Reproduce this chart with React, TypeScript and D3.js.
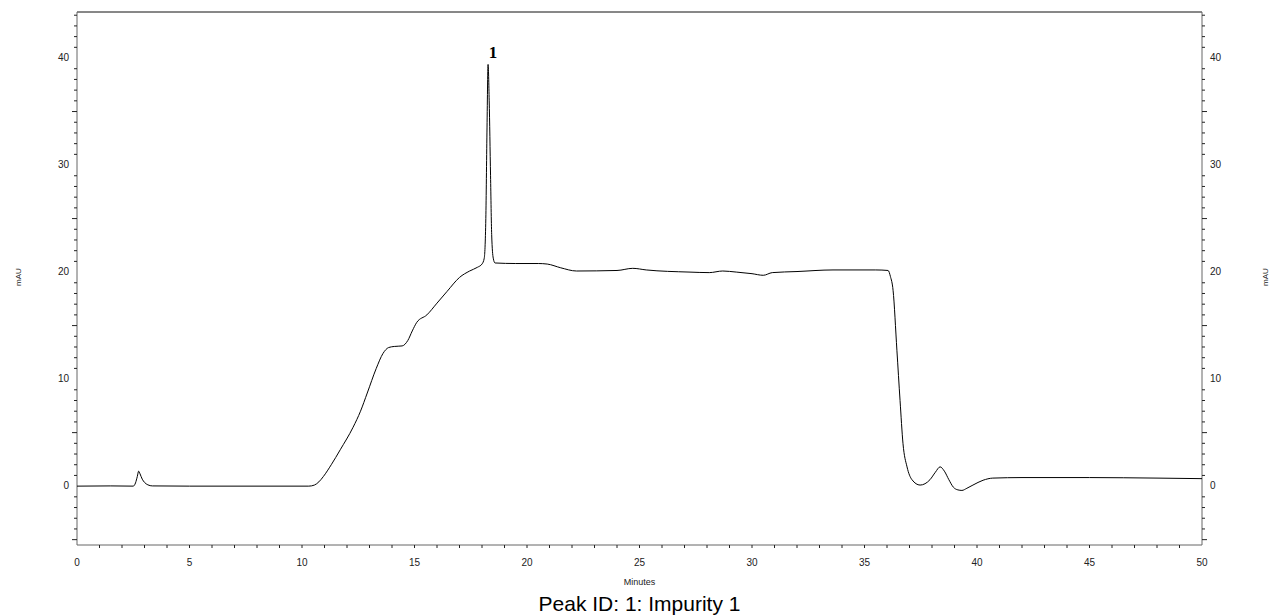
import React from 'react';
import * as d3 from 'd3';

/* chromatogram trace (minutes, mAU) */
const minutes = [
  0, 1.5, 2.5, 2.6, 2.68, 2.74, 2.8, 2.9, 3.0, 3.15, 3.35, 5, 8, 10.3, 10.55, 10.75,
  10.95, 11.3, 11.7, 12.27, 12.6, 12.9, 13.3, 13.6, 13.85, 14.1, 14.45, 14.7, 14.9,
  15.1, 15.55, 16.0, 16.45, 17.0, 17.45, 17.8, 18.0, 18.1, 18.17, 18.22, 18.27, 18.32,
  18.38, 18.43, 18.5, 18.58, 19.5, 20.5, 20.9, 21.5, 22.2, 24.0, 24.7, 25.3, 27.2,
  28.1, 28.7, 29.3, 30.0, 30.5, 30.9, 32.0, 33.6, 35.5, 36.05, 36.15, 36.27, 36.44,
  36.58, 36.71, 36.89, 37.11, 37.47, 37.91, 38.15, 38.36, 38.55, 38.75, 38.95, 39.15,
  39.33, 39.55, 39.82, 40.27, 40.7, 42, 45, 48, 50
];
const mAU = [
  0, 0.02, 0, 0.3, 0.9, 1.4, 1.15, 0.65, 0.35, 0.12, 0.02, 0, 0, 0, 0.1, 0.4,
  0.9, 2.0, 3.4, 5.5, 7.0, 8.7, 11.0, 12.4, 12.95, 13.05, 13.1, 13.6, 14.5,
  15.3, 16.0, 17.1, 18.2, 19.5, 20.1, 20.45, 20.75, 21.3, 25, 33, 39.4, 36,
  29, 23.5, 21.3, 20.85, 20.8, 20.8, 20.75, 20.4, 20.1, 20.15, 20.35, 20.2, 20.0,
  19.95, 20.1, 20.0, 19.85, 19.7, 19.95, 20.05, 20.2, 20.2, 20.15, 19.6, 18.3, 12.7,
  8.0, 4.0, 1.8, 0.6, 0.1, 0.6, 1.3, 1.8, 1.4, 0.6, -0.1, -0.35,
  -0.4, -0.2, 0.1, 0.55, 0.75, 0.8, 0.8, 0.75, 0.7
];

const xLabels = [0, 5, 10, 15, 20, 25, 30, 35, 40, 45, 50];
const yLabels = [0, 10, 20, 30, 40];
const peaks = [{ id: '1', t: 18.27, v: 39.4 }];
const peakCaption = 'Peak ID: 1: Impurity 1';

const W = 1269, H = 615;
const M = { l: 77, r: 1202, t: 12, b: 545 };
const font = 'Liberation Sans, Arial, sans-serif';

export default function App() {
  const x = d3.scaleLinear().domain([0, 50]).range([M.l, M.r]);
  const y = d3.scaleLinear().domain([-5.5, 44.3]).range([M.b, M.t]);

  const pts = minutes.map((t, i) => [t, mAU[i]] as [number, number]);
  const path = d3.line<[number, number]>()
    .x(d => x(d[0]))
    .y(d => y(d[1]))
    .curve(d3.curveMonotoneX)(pts) || '';

  const yTicks = d3.range(-5, 45, 1).filter(v => v % 10 !== 0);
  const xTicks = d3.range(1, 50, 1);

  return (
    <svg width={W} height={H} style={{ position: 'absolute', left: 0, top: 0, background: '#fff' }}>
      {/* frame */}
      <line x1={M.l} x2={M.r} y1={M.t} y2={M.t} stroke="#111" />
      <line x1={M.l} x2={M.l} y1={M.t} y2={M.b} stroke="#666" />
      <line x1={M.r} x2={M.r} y1={M.t} y2={M.b} stroke="#666" />
      <line x1={M.l} x2={M.r} y1={M.b} y2={M.b} stroke="#666" />

      {/* y ticks, both sides */}
      {yTicks.map(v => {
        const len = v % 5 === 0 ? 5 : 3;
        return (
          <g key={'y' + v} stroke="#222">
            <line x1={M.l - len} x2={M.l} y1={y(v)} y2={y(v)} />
            <line x1={M.r} x2={M.r + len} y1={y(v)} y2={y(v)} />
          </g>
        );
      })}
      {yLabels.map(v => (
        <g key={'yl' + v} fontFamily={font} fontSize={10} fill="#222">
          <text x={M.l - 8} y={y(v)} textAnchor="end" dominantBaseline="middle">{v}</text>
          <text x={M.r + 8} y={y(v)} textAnchor="start" dominantBaseline="middle">{v}</text>
        </g>
      ))}

      {/* x ticks */}
      {xTicks.map(v => (
        <line key={'x' + v} x1={x(v)} x2={x(v)} y1={M.b} y2={M.b + 3} stroke="#222" />
      ))}
      {xLabels.map(v => (
        <text key={'xl' + v} x={x(v)} y={566} textAnchor="middle" fontFamily={font} fontSize={10} fill="#222">{v}</text>
      ))}

      {/* axis titles */}
      <text x={(M.l + M.r) / 2} y={585} textAnchor="middle" fontFamily={font} fontSize={9} fill="#222">Minutes</text>
      <text transform={`translate(21,${277}) rotate(-90)`} textAnchor="middle" fontFamily={font} fontSize={8} fill="#222">mAU</text>
      <text transform={`translate(1268,${277}) rotate(-90)`} textAnchor="middle" fontFamily={font} fontSize={8} fill="#222">mAU</text>

      {/* trace */}
      <path d={path} fill="none" stroke="#000" strokeWidth={1} />

      {/* peak ids */}
      {peaks.map(p => (
        <text key={p.id} x={x(p.t) + 5} y={y(p.v) - 6} textAnchor="middle"
          fontFamily="Liberation Serif, Times New Roman, serif" fontWeight="bold" fontSize={17} fill="#000">{p.id}</text>
      ))}

      <text x={(M.l + M.r) / 2} y={611} textAnchor="middle" fontFamily={font} fontSize={21} fill="#000">{peakCaption}</text>
    </svg>
  );
}
